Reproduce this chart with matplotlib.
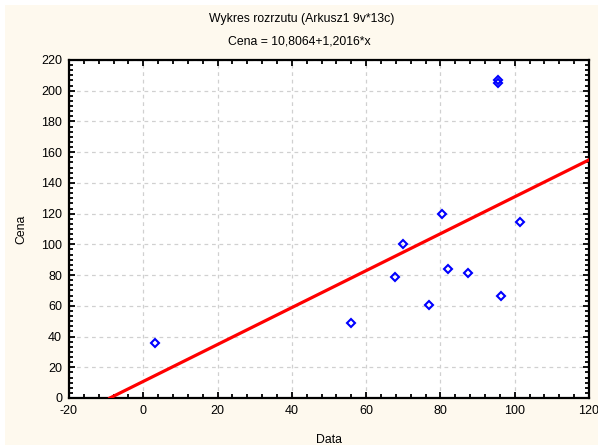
import matplotlib
matplotlib.use("Agg")
import matplotlib.pyplot as plt
import numpy as np
from matplotlib.ticker import AutoMinorLocator
from matplotlib.patches import Rectangle

plt.rcParams['font.family'] = ['Liberation Sans', 'DejaVu Sans']
plt.rcParams['axes.unicode_minus'] = False

# Data
data_x = [3.2, 55.9, 67.8, 70.0, 77.0, 80.3, 82.1, 87.3, 95.5, 95.5, 96.3, 101.4]
cena_y = [35.8, 48.8, 78.8, 100.5, 60.5, 119.6, 84.0, 81.2, 207.0, 205.0, 66.6, 114.8]
intercept = 10.8064
slope = 1.2016
x_ticks = [-20, 0, 20, 40, 60, 80, 100, 120]
y_ticks = list(range(0, 221, 20))

W, H = 598, 447
fig = plt.figure(figsize=(W / 100, H / 100), dpi=100, facecolor='white')
fig.patches.append(Rectangle((5 / W, 2 / H), 1, 440 / H, transform=fig.transFigure,
                             facecolor='#FEF9EE', edgecolor='none', zorder=-10))

ax = fig.add_axes([69 / W, 1 - 398 / H, 520 / W, 338 / H])
ax.set_facecolor('white')

x0 = -intercept / slope
xl = np.array([x0, 120])
ax.plot(xl, intercept + slope * xl, color='#FF0000', lw=2.3, zorder=3)

ax.plot(data_x, cena_y, linestyle='none', marker='D', mfc='none', mec='#0000FF',
        ms=4.2, mew=1.5, zorder=4, clip_on=False)

ax.set_xlim(-20, 120)
ax.set_ylim(0, 220)
ax.set_xticks(x_ticks)
ax.set_yticks(y_ticks)
ax.xaxis.set_minor_locator(AutoMinorLocator(5))
ax.yaxis.set_minor_locator(AutoMinorLocator(6))
ax.tick_params(which='both', direction='in', top=True, right=True, width=1.3, color='black')
ax.tick_params(which='major', length=4, labelsize=9, pad=5)
ax.tick_params(which='minor', length=3)
ax.grid(True, which='major', linestyle=(0, (3, 3)), color='#D0D0D0', lw=0.9)
ax.set_axisbelow(True)
for s in ax.spines.values():
    s.set_linewidth(1.6)
    s.set_color('black')

ax.set_xlabel('Data', fontsize=8.8, labelpad=12)
ax.set_ylabel('Cena', fontsize=8.8, labelpad=10)

fig.text(302 / W, 1 - 19 / H, 'Wykres rozrzutu (Arkusz1 9v*13c)', ha='center', va='center', fontsize=8.8)
fig.text(299 / W, 1 - 41 / H, 'Cena = 10,8064+1,2016*x', ha='center', va='center', fontsize=8.8)

fig.savefig('out.png', dpi=100, facecolor='white')
